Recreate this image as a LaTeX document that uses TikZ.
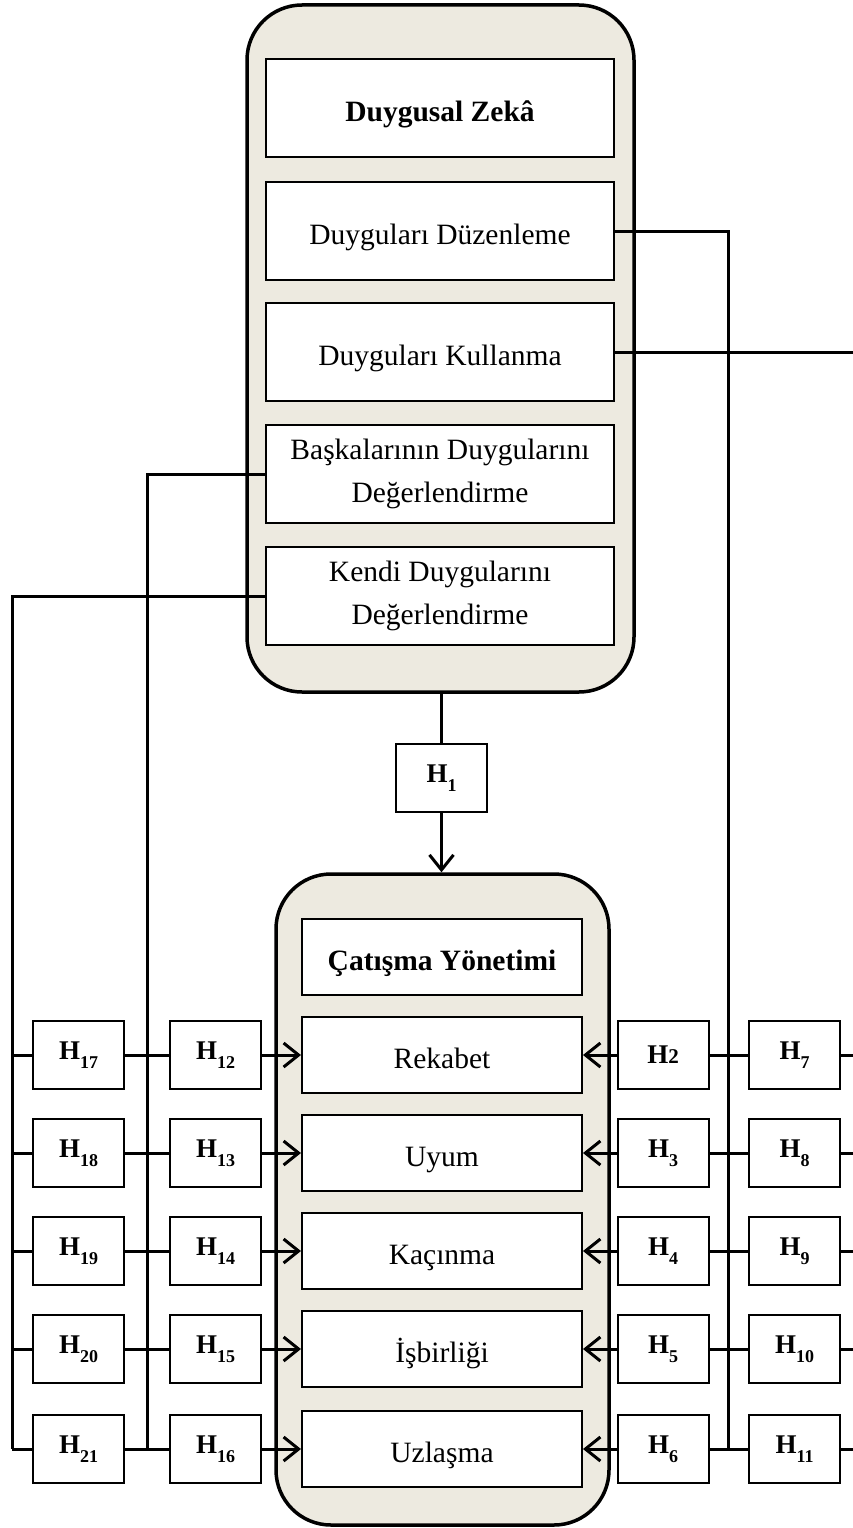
\documentclass[tikz,border=0pt]{standalone}
\usepackage{fontspec}
\setmainfont{Liberation Serif}
\usetikzlibrary{arrows.meta}
\definecolor{panel}{RGB}{237,234,224}
\newcommand{\hlab}[1]{{\fontsize{27}{27}\selectfont\bfseries H}\raisebox{-9pt}{\fontsize{18}{18}\selectfont\bfseries #1}}
\begin{document}
\begin{tikzpicture}[x=1pt,y=-1pt,
  every node/.style={font=\fontsize{29.5}{43}\selectfont, align=center, inner sep=0pt},
  oneline/.style={text height=33pt, text depth=6pt},
  outerbox/.style={draw, line width=3.5pt, fill=panel, rounded corners=55pt},
  topbox/.style={draw, line width=2pt, fill=white, minimum width=348pt, minimum height=98pt},
  lowbox/.style={draw, line width=2pt, fill=white, minimum width=280pt, minimum height=76pt, oneline},
  hbox/.style={draw, line width=2pt, fill=white, minimum width=91pt, minimum height=68pt},
  link/.style={line width=3pt},
  arr/.style={line width=3pt, -{Straight Barb[length=15pt,width=24pt,line width=3pt]}}
]
\useasboundingbox (0,0) rectangle (853,1528);

% emotional intelligence panel
\node[outerbox, minimum width=387pt, minimum height=687pt] (dz) at (440.5,348.5) {};
\node[topbox, oneline] (zeka) at (440,108) {\textbf{Duygusal Zekâ}};
\node[topbox, oneline] (duz)  at (440,231) {Duyguları Düzenleme};
\node[topbox, oneline] (kul)  at (440,352) {Duyguları Kullanma};
\node[topbox] (bas)  at (440,474) {Başkalarının Duygularını\\Değerlendirme};
\node[topbox] (ken)  at (440,596) {Kendi Duygularını\\Değerlendirme};

% conflict management panel
\node[outerbox, minimum width=333pt, minimum height=651pt] (cy) at (442.5,1199.5) {};
\node[lowbox] (cat) at (442,957)  {\textbf{Çatışma Yönetimi}};
\node[lowbox] (r1)  at (442,1055) {Rekabet};
\node[lowbox] (r2)  at (442,1153) {Uyum};
\node[lowbox] (r3)  at (442,1251) {Kaçınma};
\node[lowbox] (r4)  at (442,1349) {İşbirliği};
\node[lowbox] (r5)  at (442,1449) {Uzlaşma};

% H1 between the panels
\node[hbox] (h1) at (441.5,778) {\hlab{1}};
\draw[link] (h1.north) -- (h1.north |- dz.south);
\draw[arr] (h1.south) -- (h1.south |- cy.north);

% hypothesis boxes
\foreach \i/\y in {1/1055,2/1153,3/1251,4/1349,5/1449}{
  \pgfmathtruncatemacro{\ra}{\i+1}
  \pgfmathtruncatemacro{\rb}{\i+6}
  \pgfmathtruncatemacro{\la}{\i+11}
  \pgfmathtruncatemacro{\lb}{\i+16}
  \ifnum\i=1
    \node[hbox] (ra\i) at (663,\y) {{\fontsize{27}{27}\selectfont\bfseries H}{\fontsize{21}{21}\selectfont\bfseries 2}};
  \else
    \node[hbox] (ra\i) at (663,\y) {\hlab{\ra}};
  \fi
  \node[hbox] (rb\i) at (794.5,\y) {\hlab{\rb}};
  \node[hbox] (la\i) at (215.5,\y) {\hlab{\la}};
  \node[hbox] (lb\i) at (78.5,\y) {\hlab{\lb}};
  \coordinate (re\i) at (853,\y);
  \coordinate (le\i) at (12,\y);
  \draw[arr] (ra\i.west) -- (r\i.east);
  \draw[link] (rb\i.west) -- (ra\i.east);
  \draw[link] (rb\i.east) -- (re\i);
  \draw[arr] (la\i.east) -- (r\i.west);
  \draw[link] (lb\i.east) -- (la\i.west);
  \draw[link] (le\i) -- (lb\i.west);
}

% feeders from the emotional intelligence dimensions
\coordinate (colR) at (728,0);
\coordinate (colM) at (147,0);
\coordinate (edgeR) at (853,0);
\draw[link] (duz.east) -| (colR |- ra5.east);
\draw[link] (kul.east) -- (kul.east -| edgeR);
\draw[link] (bas.west) -| (colM |- la5.west);
\draw[link] (ken.west) -| (le5);
\end{tikzpicture}
\end{document}
